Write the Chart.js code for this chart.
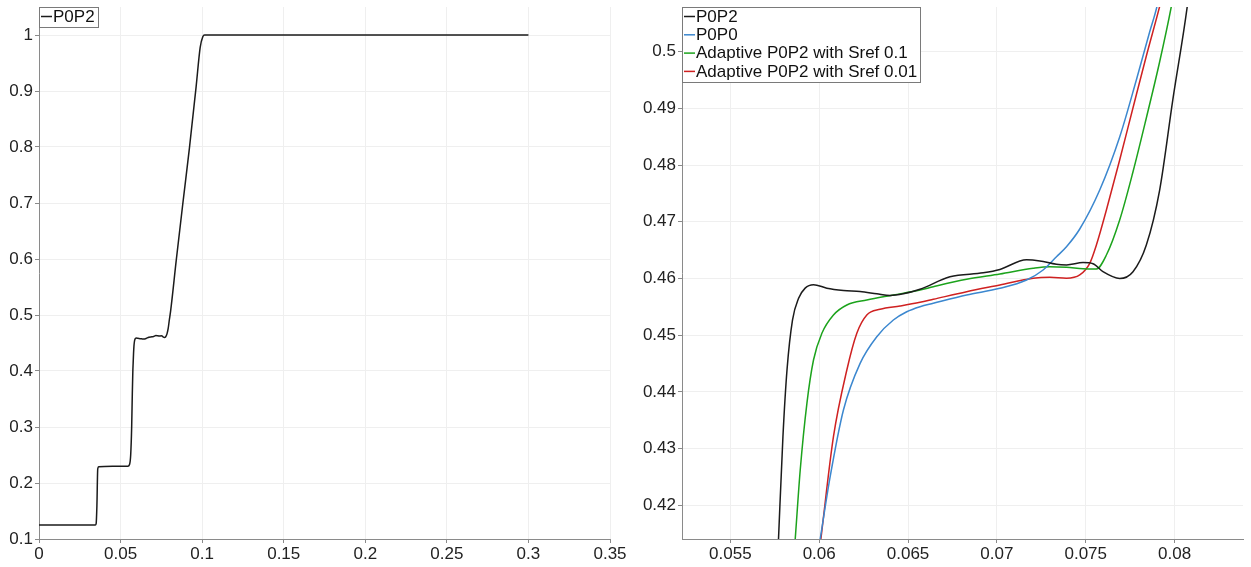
<!DOCTYPE html>
<html>
<head>
<meta charset="utf-8">
<title>P0P2 comparison</title>
<script src="https://cdn.jsdelivr.net/npm/chart.js@4.4.1/dist/chart.umd.min.js"></script>
<style>
    html, body { margin: 0; padding: 0; background: #fff; }
    #wrap { position: relative; width: 1251px; height: 567px; overflow: hidden; }
    #leftChart { position: absolute; left: 0; top: 0; }
    #rightChart { position: absolute; left: 625px; top: 0; }
</style>
</head>
<body>
<div id="wrap">
    <canvas id="leftChart" width="640" height="567"></canvas>
    <canvas id="rightChart" width="626" height="567"></canvas>
</div>
<script>
// ============= Data =============
// P0P2 full run (used in both panels, the right one is a zoom)
const p0p2X = [0, 0.0345, 0.0350, 0.0355, 0.0360, 0.0366, 0.045, 0.0545, 0.0555, 0.0562, 0.0568, 0.0572,
    0.05752, 0.05771, 0.05796, 0.05819, 0.0585, 0.05884, 0.05921, 0.05968, 0.06043, 0.06137, 0.0623, 0.06324,
    0.06399, 0.06474, 0.06567, 0.06736, 0.06923, 0.07017, 0.07167, 0.07242, 0.07335, 0.07392, 0.07485, 0.07541,
    0.07597, 0.07691, 0.07766, 0.07841, 0.07916, 0.0799, 0.08071, 0.0841, 0.0882, 0.0922, 0.0963, 0.0988,
    0.1004, 0.1015, 0.3];
const p0p2Y = [0.125, 0.125, 0.127, 0.16, 0.225, 0.229, 0.23, 0.23, 0.233, 0.25, 0.30, 0.36,
    0.40, 0.414, 0.4321, 0.4439, 0.4527, 0.4565, 0.4583, 0.4589, 0.4583, 0.4579, 0.4577, 0.4573,
    0.4570, 0.4573, 0.4581, 0.4603, 0.4610, 0.4616, 0.4633, 0.4631, 0.4625, 0.4624, 0.4628, 0.4626,
    0.4612, 0.4600, 0.4612, 0.4659, 0.4756, 0.4915, 0.5079, 0.597, 0.700, 0.798, 0.9075, 0.978,
    0.997, 1.0, 1.0];

const p0p0X = [0.0597, 0.060056, 0.060618, 0.061365, 0.062303, 0.063242, 0.064174, 0.064927, 0.065674,
    0.066421, 0.068298, 0.070169, 0.071669, 0.072601, 0.073354, 0.073916, 0.074663, 0.075787, 0.07691,
    0.077848, 0.078596, 0.079006, 0.0793];
const p0p0Y = [0.407, 0.41406, 0.42504, 0.43681, 0.44504, 0.44974, 0.45268, 0.45414, 0.45503,
    0.45563, 0.45709, 0.45827, 0.45974, 0.4615, 0.46384, 0.4656, 0.46873, 0.47561, 0.48496,
    0.49501, 0.50347, 0.50794, 0.5125];

const sref01X = [0.05844, 0.058652, 0.058933, 0.059309, 0.05968, 0.060152, 0.060803, 0.061556, 0.06268,
    0.064174, 0.065674, 0.066421, 0.068298, 0.070169, 0.07204, 0.072978, 0.073916, 0.074848, 0.0756,
    0.076163, 0.07691, 0.077657, 0.07841, 0.079157, 0.079815, 0.0801];
const sref01Y = [0.405, 0.41406, 0.42623, 0.43799, 0.44563, 0.45034, 0.45356, 0.45533, 0.45621,
    0.45709, 0.45797, 0.45855, 0.45986, 0.46079, 0.4618, 0.46208, 0.46198, 0.46173, 0.46168,
    0.46414, 0.47032, 0.47878, 0.48831, 0.49818, 0.50794, 0.513];

const sref001X = [0.0599, 0.060096, 0.060803, 0.061556, 0.062118, 0.06268, 0.063427, 0.064551, 0.065674,
    0.066421, 0.068298, 0.070169, 0.07204, 0.072978, 0.073916, 0.074663, 0.075225, 0.0756, 0.076163,
    0.07691, 0.077657, 0.07841, 0.079157, 0.0794];
const sref001Y = [0.409, 0.41406, 0.4321, 0.44386, 0.45034, 0.45356, 0.45457, 0.45515, 0.4558,
    0.45633, 0.45767, 0.45885, 0.46004, 0.46021, 0.46004, 0.46062, 0.46268, 0.46591, 0.47208,
    0.4809, 0.49007, 0.49924, 0.50794, 0.511];

// Tick values and labels
const leftXTicks = [0, 0.05, 0.1, 0.15, 0.2, 0.25, 0.3, 0.35];
const leftXLabels = ['0', '0.05', '0.1', '0.15', '0.2', '0.25', '0.3', '0.35'];
const leftYTicks = [0.1, 0.2, 0.3, 0.4, 0.5, 0.6, 0.7, 0.8, 0.9, 1.0];
const leftYLabels = ['0.1', '0.2', '0.3', '0.4', '0.5', '0.6', '0.7', '0.8', '0.9', '1'];
const rightXTicks = [0.055, 0.06, 0.065, 0.07, 0.075, 0.08];
const rightXLabels = ['0.055', '0.06', '0.065', '0.07', '0.075', '0.08'];
const rightYTicks = [0.42, 0.43, 0.44, 0.45, 0.46, 0.47, 0.48, 0.49, 0.5];
const rightYLabels = ['0.42', '0.43', '0.44', '0.45', '0.46', '0.47', '0.48', '0.49', '0.5'];

// ============= Helpers =============
const FONT = '"Liberation Sans", Arial, sans-serif';
const COLORS = { p0p2: '#1b1b1b', p0p0: '#3b87cf', sref01: '#1ca31c', sref001: '#cf2121' };

const toPoints = (xs, ys) => xs.map((x, i) => ({ x: x, y: ys[i] }));

const makeDataset = (label, xs, ys, color) => ({
    label: label,
    data: toPoints(xs, ys),
    borderColor: color,
    borderWidth: 1.5,
    pointRadius: 0,
    fill: false,
    cubicInterpolationMode: 'monotone',
    clip: 0
});

// Legend drawn as a framed box in the top-left corner of the plot
const boxLegend = {
    id: 'boxLegend',
    afterDatasetsDraw(chart) {
        const ctx = chart.ctx;
        const a = chart.chartArea;
        const items = chart.data.datasets;
        const rowH = 18.3;
        ctx.save();
        ctx.font = '17px ' + FONT;
        let w = 0;
        items.forEach(d => { w = Math.max(w, ctx.measureText(d.label).width); });
        const bw = Math.round(14 + w + 3);
        const bh = Math.round(items.length * rowH + 1.5);
        ctx.fillStyle = '#fff';
        ctx.fillRect(a.left, a.top, bw, bh);
        ctx.strokeStyle = '#7a7a7a';
        ctx.lineWidth = 1;
        ctx.strokeRect(Math.round(a.left) + 0.5, Math.round(a.top) + 0.5, bw, bh);
        items.forEach((d, i) => {
            const cy = a.top + 9.5 + rowH * i;
            ctx.strokeStyle = d.borderColor;
            ctx.lineWidth = 1.5;
            ctx.beginPath();
            ctx.moveTo(a.left + 2, cy);
            ctx.lineTo(a.left + 13, cy);
            ctx.stroke();
            ctx.fillStyle = '#111';
            ctx.textBaseline = 'middle';
            ctx.textAlign = 'left';
            ctx.fillText(d.label, a.left + 14, cy + 0.5);
        });
        ctx.restore();
    }
};

const makeAxis = (min, max, ticks, labels, isX, size) => ({
    type: 'linear',
    min: min,
    max: max,
    afterBuildTicks: scale => { scale.ticks = ticks.map(v => ({ value: v })); },
    afterFit: scale => {
        if (isX) {
            scale.height = size;
            scale.paddingLeft = 0;
            scale.paddingRight = 0;
        } else {
            scale.width = size;
            scale.paddingTop = 0;
            scale.paddingBottom = 0;
        }
    },
    ticks: {
        autoSkip: false,
        maxRotation: 0,
        padding: isX ? 1 : 2,
        color: '#222',
        font: { family: FONT, size: 17 },
        callback: (value, index) => labels[index]
    },
    grid: { color: '#efefef', lineWidth: 1, tickColor: '#8a8a8a', tickLength: 4 },
    border: { display: true, color: '#8a8a8a', width: 1 }
});

const baseOptions = (xAxis, yAxis, rightPad) => ({
    responsive: false,
    animation: false,
    events: [],
    layout: { padding: { left: 0, top: 7, right: rightPad, bottom: 0 } },
    plugins: { legend: { display: false }, tooltip: { enabled: false } },
    scales: { x: xAxis, y: yAxis }
});

// ============= Charts =============
// left canvas is wider than its plot so the last tick label is not cut off
new Chart(document.getElementById('leftChart'), {
    type: 'line',
    data: {
        datasets: [makeDataset('P0P2', p0p2X, p0p2Y, COLORS.p0p2)]
    },
    options: baseOptions(
        makeAxis(0, 0.35, leftXTicks, leftXLabels, true, 28),
        makeAxis(0.1, 1.05, leftYTicks, leftYLabels, false, 39),
        30
    ),
    plugins: [boxLegend]
});

new Chart(document.getElementById('rightChart'), {
    type: 'line',
    data: {
        datasets: [
            makeDataset('P0P2', p0p2X, p0p2Y, COLORS.p0p2),
            makeDataset('P0P0', p0p0X, p0p0Y, COLORS.p0p0),
            makeDataset('Adaptive P0P2 with Sref 0.1', sref01X, sref01Y, COLORS.sref01),
            makeDataset('Adaptive P0P2 with Sref 0.01', sref001X, sref001Y, COLORS.sref001)
        ]
    },
    options: baseOptions(
        makeAxis(0.05228, 0.08385, rightXTicks, rightXLabels, true, 28),
        makeAxis(0.41406, 0.50788, rightYTicks, rightYLabels, false, 57),
        8
    ),
    plugins: [boxLegend]
});
</script>
</body>
</html>
